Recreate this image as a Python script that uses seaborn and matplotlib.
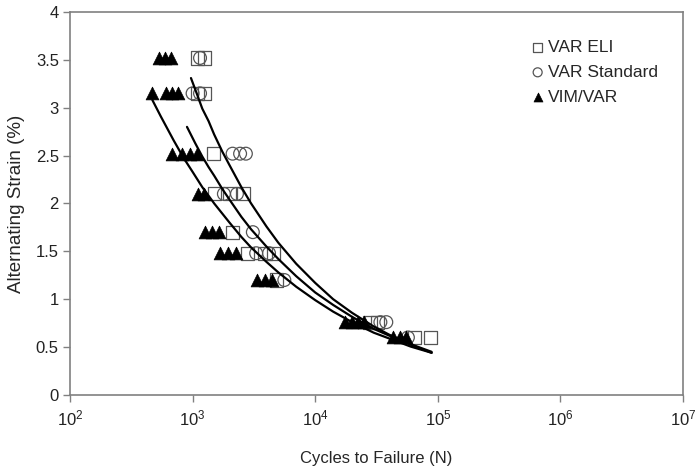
import matplotlib
matplotlib.use("Agg")
import matplotlib.pyplot as plt
import matplotlib.ticker as mticker
import numpy as np
import pandas as pd
import seaborn as sns

# --- data (cycles to failure, alternating strain %) ---
eli_cycles = [1090, 1260, 1100, 1250, 1470, 1500, 2000, 2600, 2100,
              2800, 3900, 4600, 4800, 28000, 32000, 65000, 87000]
eli_strain = [3.52, 3.52, 3.15, 3.15, 2.52, 2.1, 2.1, 2.1, 1.7,
              1.48, 1.48, 1.48, 1.2, 0.76, 0.76, 0.6, 0.6]

std_cycles = [1150, 1000, 1150, 2120, 2440, 2720, 1800, 2300, 3100,
              3300, 4200, 5600, 34000, 38000, 57000]
std_strain = [3.52, 3.15, 3.15, 2.52, 2.52, 2.52, 2.1, 2.1, 1.7,
              1.48, 1.48, 1.2, 0.76, 0.76, 0.6]

vim_cycles = [530, 595, 670, 470, 605, 680, 760, 680, 820, 950, 1090,
              1100, 1240, 1260, 1440, 1640, 1670, 1950, 2260,
              3370, 3900, 4440, 17500, 20000, 22500, 25000, 43000, 49000, 55000]
vim_strain = [3.52, 3.52, 3.52, 3.15, 3.15, 3.15, 3.15, 2.52, 2.52, 2.52, 2.52,
              2.1, 2.1, 1.7, 1.7, 1.7, 1.48, 1.48, 1.48,
              1.2, 1.2, 1.2, 0.76, 0.76, 0.76, 0.76, 0.6, 0.6, 0.6]

# power-law trendlines, points
fit_vim_cycles = [470, 550, 700, 850, 1000, 1200, 1500, 2000, 2500, 3000, 4000,
                  5000, 7000, 10000, 14000, 20000, 30000, 40000, 60000, 89000]
fit_vim_strain = [3.08, 2.91, 2.66, 2.47, 2.33, 2.17, 2.00, 1.80, 1.65, 1.54, 1.39,
                  1.28, 1.13, 0.99, 0.87, 0.76, 0.65, 0.59, 0.505, 0.44]
fit_std_cycles = [900, 1050, 1200, 1350, 1500, 1750, 2000, 2500, 3000, 4000,
                  5000, 7000, 10000, 14000, 20000, 30000, 40000, 60000, 89000]
fit_std_strain = [2.80, 2.63, 2.49, 2.38, 2.29, 2.15, 2.04, 1.86, 1.73, 1.55,
                  1.42, 1.24, 1.07, 0.94, 0.815, 0.69, 0.62, 0.53, 0.45]
fit_eli_cycles = [970, 1080, 1200, 1350, 1500, 1750, 2000, 2500, 3000, 4000,
                  5000, 7000, 10000, 14000, 20000, 30000, 40000, 60000, 89000]
fit_eli_strain = [3.31, 3.15, 2.99, 2.86, 2.72, 2.54, 2.40, 2.17, 2.00, 1.76,
                  1.59, 1.37, 1.17, 1.00, 0.857, 0.715, 0.63, 0.525, 0.44]

sns.set_theme(style="white")
plt.rcParams.update({
    "font.family": ["Liberation Sans", "DejaVu Sans"],
    "font.size": 12,
    "mathtext.default": "regular",
    "axes.edgecolor": "#808080",
    "xtick.color": "#808080", "ytick.color": "#808080",
    "xtick.labelcolor": "#222222", "ytick.labelcolor": "#222222",
})

fig = plt.figure(figsize=(6.97, 4.69), dpi=100)
ax = fig.add_axes([0.1004, 0.158, 0.8796, 0.8164])

eli = pd.DataFrame({"cycles": eli_cycles, "strain": eli_strain})
std = pd.DataFrame({"cycles": std_cycles, "strain": std_strain})
vim = pd.DataFrame({"cycles": vim_cycles, "strain": vim_strain})

sns.scatterplot(data=eli, x="cycles", y="strain", marker="s", s=90,
                facecolor="none", edgecolor="#555555", linewidth=0.9,
                label="VAR ELI", ax=ax)
sns.scatterplot(data=std, x="cycles", y="strain", marker="o", s=85,
                facecolor="none", edgecolor="#555555", linewidth=0.9,
                label="VAR Standard", ax=ax)
sns.scatterplot(data=vim, x="cycles", y="strain", marker="^", s=85,
                color="black", edgecolor="black", linewidth=0.5,
                label="VIM/VAR", ax=ax)

for cx, cy in [(fit_vim_cycles, fit_vim_strain),
               (fit_std_cycles, fit_std_strain),
               (fit_eli_cycles, fit_eli_strain)]:
    sns.lineplot(x=cx, y=cy, color="black", lw=1.6, estimator=None,
                 sort=False, ax=ax)

ax.set_xscale("log")
ax.set_xlim(1e2, 1e7)
ax.set_ylim(0, 4)
ax.set_yticks(np.arange(0, 4.01, 0.5))
ax.yaxis.set_major_formatter(mticker.FuncFormatter(lambda v, p: f"{v:g}"))
ax.xaxis.set_major_locator(mticker.LogLocator(base=10, numticks=10))
ax.xaxis.set_minor_locator(mticker.NullLocator())
ax.xaxis.set_major_formatter(mticker.LogFormatterMathtext())
ax.tick_params(axis="both", which="major", direction="out", length=5,
               width=1, bottom=True, left=True, labelsize=12, pad=3)
ax.tick_params(axis="x", pad=5)
for sp in ax.spines.values():
    sp.set_linewidth(1.2)

ax.set_xlabel("Cycles to Failure (N)", fontsize=12, labelpad=16)
ax.set_ylabel("Alternating Strain (%)", fontsize=13.5, labelpad=8)

ax.legend(loc="upper left", bbox_to_anchor=(0.739, 0.948),
          bbox_transform=fig.transFigure, frameon=False,
          fontsize=12.5, handletextpad=0.2, labelspacing=0.55,
          handlelength=0.8, markerscale=0.7, borderpad=0.4)

fig.savefig("out.png", dpi=100)
